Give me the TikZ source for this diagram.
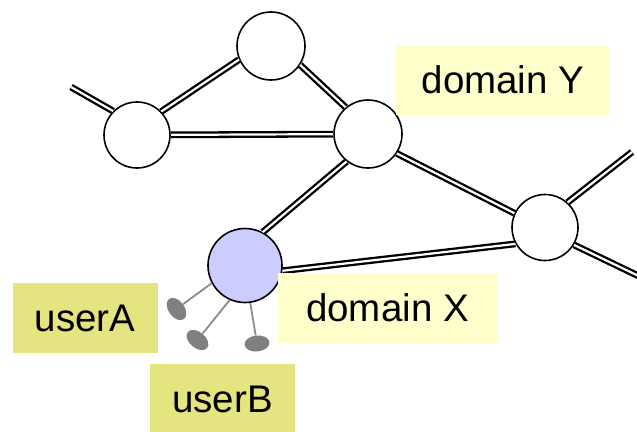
\documentclass[tikz,border=0pt]{standalone}
\usepackage{fontspec}
\setmainfont{Liberation Sans}
\usepackage{tikz}
\usetikzlibrary{shapes.geometric}
\usetikzlibrary{calc}
\definecolor{domyellow}{RGB}{255,255,204}
\definecolor{useryellow}{RGB}{228,228,128}
\definecolor{domblue}{RGB}{204,204,255}
\definecolor{footgray}{RGB}{128,128,128}
\definecolor{leggray}{RGB}{140,140,140}
\tikzstyle{router} = [circle, draw=black, line width=1.6pt, fill=white, inner sep=0pt]
\tikzstyle{link} = [line width=2.3pt, double=white, double distance=2.2pt]
\tikzstyle{domlabel} = [rectangle, fill=domyellow, minimum height=70pt, inner sep=0pt, font=\fontsize{38.5}{46}\selectfont]
\tikzstyle{userlabel} = [rectangle, fill=useryellow, minimum width=145pt, minimum height=70pt, inner sep=0pt, font=\fontsize{38.5}{46}\selectfont]
\tikzstyle{foot} = [ellipse, fill=footgray, minimum width=25pt, minimum height=16pt, inner sep=0pt]
\tikzstyle{leg} = [draw=leggray, line width=1.8pt]

\begin{document}
\begin{tikzpicture}[x=1pt, y=-1pt]
    \clip (0,0) rectangle (637,431);

    % routers
    \node[router, minimum size=68pt] (T) at (271,46) {};
    \node[router, minimum size=66pt] (L) at (137,135) {};
    \node[router, minimum size=68pt] (M) at (368,134) {};
    \node[router, minimum size=66pt] (R) at (545,227.5) {};

    % free ends
    \coordinate (stubW) at (71,87);
    \coordinate (stubNE) at (632,152);
    \coordinate (stubSE) at (647,280);

    % draw links
    \draw[link] (stubW) -- (L.135);
    \draw[link] (L.44) -- (T.203);
    \draw[link] (L) -- (M);
    \draw[link] (T.-33) -- (M.130);
    \draw[link] (M.-34) -- (R.155);
    \draw[link] (R.48) -- (stubNE);
    \draw[link] (R.-31) -- (stubSE);

    % domain X with its users
    \node[router, fill=domblue, minimum size=74pt] (X) at (245,265.5) {};
    \draw[link] (M.232) -- (X.62);
    \draw[link] (X.-8) -- (R.209);
    \node[foot, rotate=-54] (footA) at (176.5,309) {};
    \node[foot, rotate=-40] (footB) at (197.5,340) {};
    \node[foot, rotate=6] (footC) at (257,343.5) {};
    \draw[leg] (X.208) -- (footA);
    \draw[leg] (X.246) -- (footB);
    \draw[leg] (X.278) -- (footC);

    % labels
    \node[domlabel, minimum width=214pt] (domY) at (503,80) {domain Y};
    \node[domlabel, minimum width=219pt] (domX) at (387.5,308) {domain X};
    \node[userlabel] (userA) at (85,318) {userA};
    \node[userlabel] (userB) at (222.5,399) {userB};

\end{tikzpicture}
\end{document}
